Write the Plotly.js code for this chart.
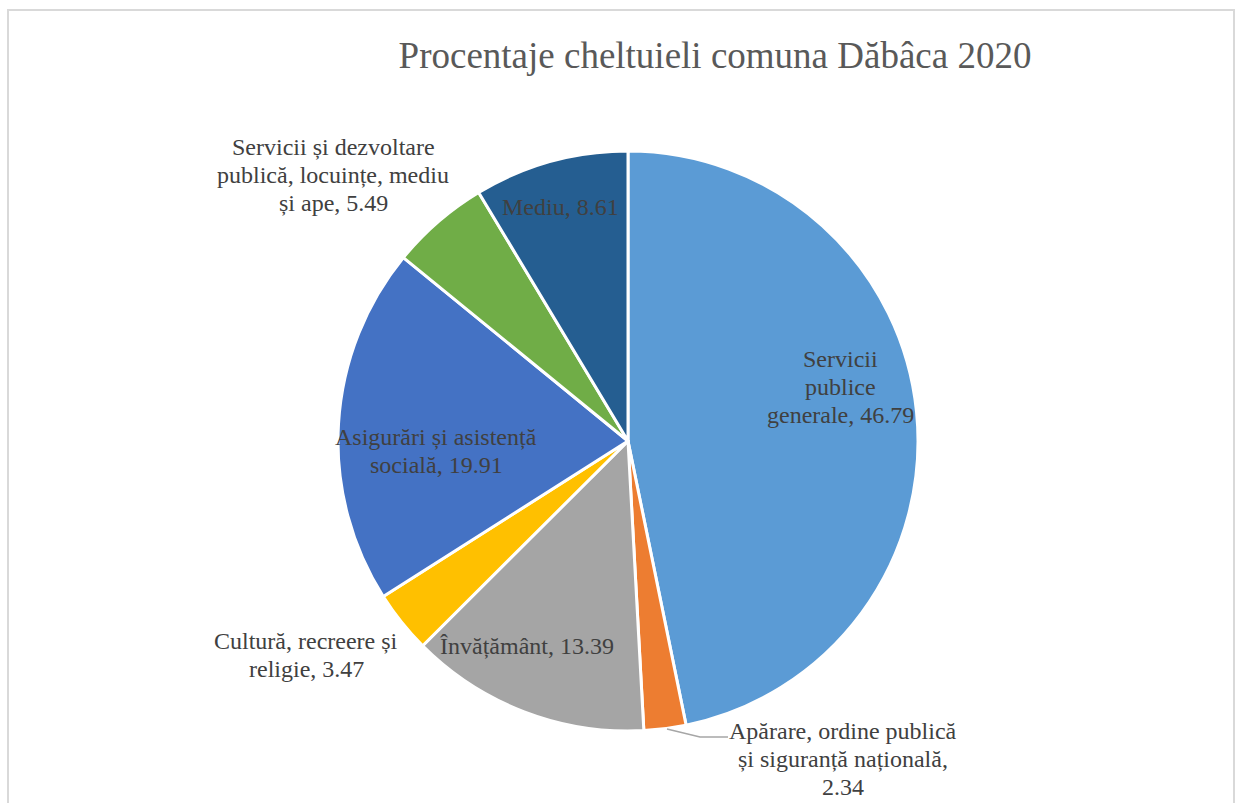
<!DOCTYPE html>
<html>
<head>
<meta charset="utf-8">
<script src="https://cdn.plot.ly/plotly-3.0.1.min.js"></script>
<style>
html,body{margin:0;padding:0;background:#fff;}
#frame{position:absolute;left:7px;top:9px;width:1228px;height:820px;border:2px solid #D9D9D9;box-sizing:border-box;}
#chart{position:absolute;left:0;top:0;width:1244px;height:803px;}
</style>
</head>
<body>
<div id="frame"></div>
<div id="chart"></div>
<script>
const categories = [
  "Servicii publice generale",
  "Apărare, ordine publică și siguranță națională",
  "Învățământ",
  "Cultură, recreere și religie",
  "Asigurări și asistență socială",
  "Servicii și dezvoltare publică, locuințe, mediu și ape",
  "Mediu"
];
const values = [46.79, 2.34, 13.39, 3.47, 19.91, 5.49, 8.61];
const labelLines = [
  ["Servicii", "publice", "generale, "],
  ["Apărare, ordine publică", "și siguranță națională,", ""],
  ["Învățământ, "],
  ["Cultură, recreere și", "religie, "],
  ["Asigurări și asistență", "socială, "],
  ["Servicii și dezvoltare", "publică, locuințe, mediu", "și ape, "],
  ["Mediu, "]
];
const colors = ["#5B9BD5", "#ED7D31", "#A5A5A5", "#FFC000", "#4472C4", "#70AD47", "#255E91"];

// label block centers in pixels (layout only)
const labelPos = [[840,387],[843,759],[527,646],[306,655],[436,451],[333,175],[560,207]];
const lineGap = 28;

const W = 1244, H = 803;
const cx = 628, cy = 441, R = 290;
const px = x => x / W, py = y => 1 - y / H;
const FONT = 'Liberation Serif, Times New Roman, serif';

const annotations = [];
labelPos.forEach((p, i) => {
  const lines = labelLines[i].slice();
  lines[lines.length - 1] = lines[lines.length - 1] + values[i].toFixed(2);
  const n = lines.length;
  lines.forEach((t, k) => {
    const yy = p[1] + (k - (n - 1) / 2) * lineGap;
    annotations.push({
      xref: 'paper', yref: 'paper', x: px(p[0]), y: py(yy),
      xanchor: 'center', yanchor: 'middle', showarrow: false,
      text: t, align: 'center',
      font: {family: FONT, size: 24, color: '#404040'}
    });
  });
});

const data = [{
  type: 'pie',
  labels: categories,
  values: values,
  sort: false,
  direction: 'clockwise',
  rotation: 0,
  textinfo: 'none',
  hoverinfo: 'label+value',
  marker: {colors: colors, line: {color: '#FFFFFF', width: 3}},
  domain: {x: [px(cx - R), px(cx + R)], y: [py(cy + R), py(cy - R)]},
  showlegend: false
}];

const layout = {
  width: W, height: H,
  margin: {l: 0, r: 0, t: 0, b: 0},
  paper_bgcolor: 'rgba(0,0,0,0)',
  plot_bgcolor: 'rgba(0,0,0,0)',
  showlegend: false,
  title: {
    text: 'Procentaje cheltuieli comuna Dăbâca 2020',
    x: px(715), xanchor: 'center', y: py(55), yanchor: 'middle',
    font: {family: FONT, size: 37, color: '#595959'}
  },
  annotations: annotations,
  shapes: [{
    type: 'path', xref: 'paper', yref: 'paper',
    path: `M ${px(667)} ${py(729)} L ${px(700)} ${py(737)} L ${px(728)} ${py(737)}`,
    line: {color: '#A6A6A6', width: 1.5}
  }]
};

Plotly.newPlot('chart', data, layout, {displayModeBar: false, staticPlot: true});
</script>
</body>
</html>
